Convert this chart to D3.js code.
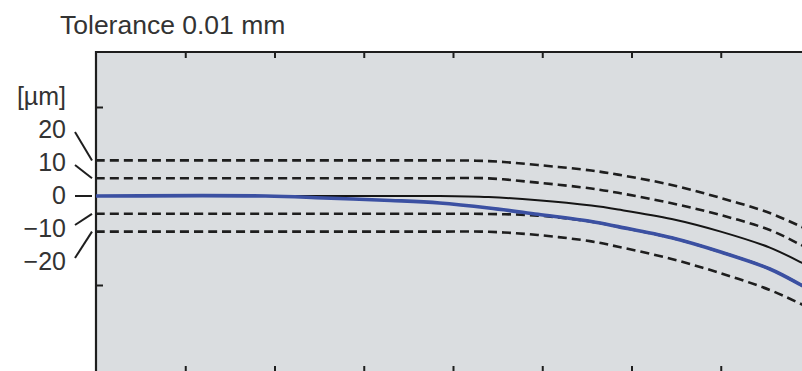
<!DOCTYPE html>
<html>
<head>
<meta charset="utf-8">
<script src="https://cdn.jsdelivr.net/npm/d3@7"></script>
<style>
  html, body { margin: 0; padding: 0; background: #ffffff; }
  svg { display: block; }
  text { font-family: "Liberation Sans", Arial, Helvetica, sans-serif; }
</style>
</head>
<body>
<svg id="chart" width="802" height="371"></svg>
<script>
// ---- data ----
const title = "Tolerance 0.01 mm";
const unitLabel = "[µm]";
const xTicks = [1, 2, 3, 4, 5, 6, 7];
const yTicks = [-50, 50];
const toleranceLabels = ["20", "10", "0", "−10", "−20"];
const toleranceValues = [20, 10, 0, -10, -20];

const xs = [0, 1.9, 2.55, 3.3, 3.85, 4.4, 4.95, 5.55, 5.85, 6.45, 7.0, 7.55, 7.9, 8.0];
const nominal    = [0, 0, 0, 0, 0, -0.6, -2.4, -5.4, -7.6, -12.9, -20.0, -29.0, -37.3, -40.0];
const measured   = [0, 0, -1.1, -2.5, -3.9, -6.7, -10.3, -14.3, -17.2, -23.5, -31.5, -41.0, -50.0, -52.8];
const upperOuter = [20, 20, 20, 20, 20, 19.6, 17.4, 14.3, 12.0, 6.2, -1.1, -9.6, -17.2, -19.6];
const upperInner = [10, 10, 10, 10, 10, 9.9, 7.5, 4.2, 1.8, -4.1, -10.7, -19.1, -27.5, -30.0];
const lowerInner = [-10, -10, -10, -10, -10, -10.1, -11.0, -14.4, -17.3, -23.5, -31.5, -41.0, -50.0, -52.8];
const lowerOuter = [-20, -20, -20, -20, -20, -20.1, -21.9, -25.5, -28.5, -35.4, -43.4, -52.8, -60.7, -63.2];

// ---- layout ----
const svg = d3.select("#chart");
const pLeft = 96, pTop = 52, pRight = 810, pBottom = 373;
const x = d3.scaleLinear().domain([0, 8]).range([pLeft, pRight]);
const y = d3.scaleLinear().domain([-99.44, 80.9]).range([pBottom, pTop]);

const ink = "#1e1e1e";
const textCol = "#333333";

// plot background
svg.append("rect")
  .attr("x", pLeft).attr("y", pTop)
  .attr("width", 802 - pLeft + 10).attr("height", pBottom - pTop)
  .attr("fill", "#dadde0");

svg.append("defs").append("clipPath").attr("id", "plotclip")
  .append("rect").attr("x", pLeft).attr("y", pTop).attr("width", 802 - pLeft).attr("height", pBottom - pTop);

// axes
const axTop = svg.append("g").attr("transform", `translate(0,${pTop})`)
  .call(d3.axisBottom(x).tickValues(xTicks).tickSize(6).tickFormat(""));
const axBottom = svg.append("g").attr("transform", `translate(0,${pBottom})`)
  .call(d3.axisTop(x).tickValues(xTicks).tickSize(7).tickFormat(""));
const axLeft = svg.append("g").attr("transform", `translate(${pLeft},0)`)
  .call(d3.axisRight(y).tickValues(yTicks).tickSize(7).tickFormat(""));
[axTop, axBottom, axLeft].forEach(g => {
  g.select(".domain").attr("stroke", ink).attr("stroke-width", 2.2);
  g.selectAll(".tick line").attr("stroke", ink).attr("stroke-width", 2);
});
axTop.select(".domain").attr("d", `M${pLeft},0H${802 + 5}`);
axBottom.select(".domain").attr("d", `M${pLeft},0H${802 + 5}`);
axLeft.select(".domain").attr("d", `M0,${pTop - 1}V${pBottom + 5}`);

// lines
const pts = vals => xs.map((d, i) => [d, vals[i]]);
const line = d3.line().x(d => x(d[0])).y(d => y(d[1])).curve(d3.curveCatmullRom.alpha(0.5));
const plot = svg.append("g").attr("clip-path", "url(#plotclip)");

[upperOuter, upperInner, lowerInner, lowerOuter].forEach(vals => {
  plot.append("path").attr("d", line(pts(vals)))
    .attr("fill", "none").attr("stroke", ink)
    .attr("stroke-width", 2.6).attr("stroke-dasharray", "9,5");
});
plot.append("path").attr("d", line(pts(nominal)))
  .attr("fill", "none").attr("stroke", "#151515").attr("stroke-width", 2);
plot.append("path").attr("d", line(pts(measured)))
  .attr("fill", "none").attr("stroke", "#3b50a2").attr("stroke-width", 3.6)
  .attr("stroke-linecap", "butt");

// title and unit
svg.append("text").attr("x", 60).attr("y", 34)
  .attr("font-size", 26.5).attr("fill", textCol).text(title);
svg.append("text").attr("x", 66).attr("y", 105).attr("text-anchor", "end")
  .attr("font-size", 25).attr("fill", textCol).text(unitLabel);

// tolerance labels with leader lines
const y0 = y(0);
toleranceLabels.forEach((lab, i) => {
  const cy = y0 + (i - 2) * 33;
  svg.append("text").attr("x", 66).attr("y", cy + 8.5).attr("text-anchor", "end")
    .attr("font-size", 25).attr("fill", textCol).text(lab);
  const ty = y(toleranceValues[i]);
  const sy = i === 2 ? ty : cy + (i < 2 ? 2 : -4);
  svg.append("line")
    .attr("x1", 75).attr("y1", sy).attr("x2", 92).attr("y2", ty)
    .attr("stroke", ink).attr("stroke-width", 2);
});
</script>
</body>
</html>
